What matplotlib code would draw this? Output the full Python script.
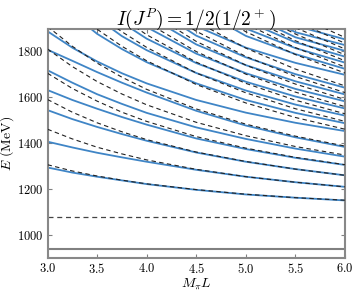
import numpy as np
import matplotlib.pyplot as plt

plt.rcParams['mathtext.fontset'] = 'cm'
plt.rcParams['font.family'] = 'serif'
plt.rcParams['font.serif'] = ['DejaVu Serif']

nan = np.nan

# M_pi L grid on which the levels were read
mpi_L = [3.0, 3.25, 3.5, 3.75, 4.0, 4.5, 5.0, 5.5, 6.0]

# thresholds (MeV)
m_nucleon = 939.0
n_pi_threshold = 1078.0

# non-interacting levels (dashed), MeV
free_1 = [1306, 1279, 1257, 1239, 1223, 1198, 1178, 1163, 1152]
free_2 = [1460, 1418, 1382, 1353, 1327, 1286, 1254, 1230, 1210]
free_3 = [1589, 1534, 1488, 1449, 1415, 1361, 1320, 1287, 1260]
free_4 = [1703, 1637, 1582, 1534, 1494, 1428, 1378, 1338, 1306]
free_5 = [1808, 1732, 1667, 1613, 1566, 1490, 1432, 1385, 1348]
free_6 = [1906, 1820, 1747, 1686, 1633, 1548, 1482, 1430, 1387]
free_8 = [2084, 1981, 1894, 1820, 1757, 1654, 1574, 1511, 1460]
free_9 = [nan, 2056, 1962, 1883, 1815, 1704, 1618, 1549, 1494]
free_10 = [nan, nan, 2028, 1943, 1870, 1751, 1659, 1586, 1527]
free_11 = [nan, nan, nan, 2001, 1923, 1797, 1699, 1621, 1558]
free_12 = [nan, nan, nan, nan, 1975, 1841, 1738, 1656, 1589]
free_13 = [nan, nan, nan, nan, 2025, 1885, 1776, 1689, 1619]
free_14 = [nan, nan, nan, nan, nan, 1927, 1812, 1721, 1648]
free_16 = [nan, nan, nan, nan, nan, 2007, 1883, 1784, 1704]
free_17 = [nan, nan, nan, nan, nan, nan, 1917, 1814, 1730]
free_18 = [nan, nan, nan, nan, nan, nan, 1950, 1844, 1757]
free_19 = [nan, nan, nan, nan, nan, nan, 1983, 1873, 1783]
free_20 = [nan, nan, nan, nan, nan, nan, nan, 1901, 1808]
free_21 = [nan, nan, nan, nan, nan, nan, nan, 1929, 1833]
free_22 = [nan, nan, nan, nan, nan, nan, nan, 1956, 1858]

# interacting levels (solid blue), MeV
lvl_1 = [1294, 1272, 1254, 1238, 1222, 1197, 1177, 1163, 1151]
lvl_2 = [1406, 1381, 1358, 1338, 1319, 1284, 1254, 1230, 1210]
lvl_3 = [1543, 1504, 1470, 1439, 1410, 1359, 1319, 1287, 1260]
lvl_4 = [1630, 1587, 1549, 1513, 1480, 1420, 1374, 1336, 1305]
lvl_5 = [1716, 1662, 1612, 1570, 1531, 1468, 1418, 1376, 1341]
lvl_6 = [1805, 1757, 1708, 1662, 1619, 1540, 1476, 1425, 1383]
lvl_7 = [1885, 1814, 1754, 1703, 1659, 1587, 1532, 1488, 1452]
lvl_8 = [nan, 1961, 1874, 1808, 1751, 1659, 1587, 1531, 1486]
lvl_9 = [nan, nan, 1942, 1864, 1803, 1704, 1628, 1567, 1519]
lvl_10 = [nan, nan, nan, 1923, 1853, 1747, 1666, 1602, 1550]
lvl_11 = [nan, nan, nan, nan, 1903, 1788, 1703, 1635, 1581]
lvl_12 = [nan, nan, nan, nan, 1955, 1828, 1738, 1668, 1611]
lvl_13 = [nan, nan, nan, nan, 2005, 1866, 1772, 1699, 1640]
lvl_14 = [nan, nan, nan, nan, nan, 1907, 1814, 1748, 1696]
lvl_16 = [nan, nan, nan, nan, nan, 1987, 1865, 1786, 1722]
lvl_17 = [nan, nan, nan, nan, nan, nan, 1897, 1812, 1749]
lvl_18 = [nan, nan, nan, nan, nan, nan, 1930, 1837, 1775]
lvl_19 = [nan, nan, nan, nan, nan, nan, 1963, 1859, 1800]
lvl_20 = [nan, nan, nan, nan, nan, nan, 1995, 1881, 1825]
lvl_21 = [nan, nan, nan, nan, nan, nan, nan, 1909, 1850]

free_levels = [free_1, free_2, free_3, free_4, free_5, free_6, free_8, free_9,
               free_10, free_11, free_12, free_13, free_14, free_16, free_17,
               free_18, free_19, free_20, free_21, free_22]
int_levels = [lvl_1, lvl_2, lvl_3, lvl_4, lvl_5, lvl_6, lvl_7, lvl_8, lvl_9,
              lvl_10, lvl_11, lvl_12, lvl_13, lvl_14, lvl_16, lvl_17, lvl_18,
              lvl_19, lvl_20, lvl_21]

x_ticks = [3.0, 3.5, 4.0, 4.5, 5.0, 5.5, 6.0]
y_ticks = [1000, 1200, 1400, 1600, 1800]

fig = plt.figure(figsize=(3.58, 2.91), dpi=100)
ax = fig.add_axes([0.1327, 0.1124, 0.831, 0.788])

blue = '#3f85c6'
for lv in int_levels:
    ax.plot(mpi_L, lv, color=blue, lw=1.3, zorder=2)
for lv in free_levels:
    ax.plot(mpi_L, lv, color='#222222', lw=0.8, ls=(0, (4, 3)), zorder=3)

ax.axhline(m_nucleon, color='#808080', lw=1.5, zorder=1)
ax.axhline(n_pi_threshold, color='#444444', lw=0.9, ls=(0, (4, 3)), zorder=1)

ax.set_xlim(3.0, 6.0)
ax.set_ylim(900, 1895)
ax.set_xticks(x_ticks)
ax.set_xticklabels([f'${v:.1f}$' for v in x_ticks])
ax.set_yticks(y_ticks)
ax.set_yticklabels([f'${v}$' for v in y_ticks])
ax.tick_params(direction='in', length=3, width=0.8, color='#808080',
               labelsize=9, top=True, right=True, pad=3)
for sp in ax.spines.values():
    sp.set_color('#888888')
    sp.set_linewidth(1.5)

ax.set_xlabel(r'$M_\pi L$', fontsize=10, labelpad=0)
ax.set_ylabel(r'$E\ (\mathrm{MeV})$', fontsize=10)
ax.yaxis.set_label_coords(-0.105, 0.5)
ax.set_title(r'$I(J^P) = 1/2(1/2^+)$', fontsize=14, pad=3)

fig.savefig('out.png', dpi=100)
